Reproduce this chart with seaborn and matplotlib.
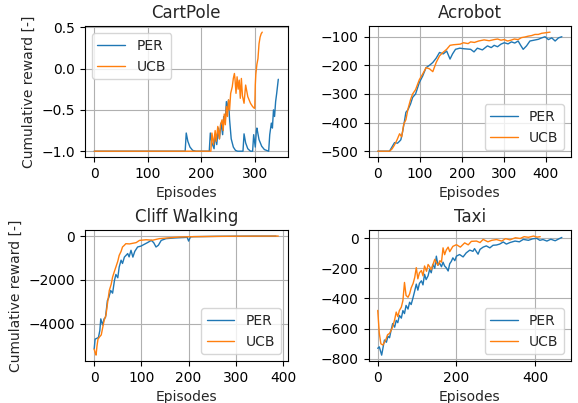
import matplotlib
matplotlib.use("Agg")
import matplotlib.pyplot as plt
from matplotlib.ticker import MultipleLocator
import seaborn as sns
import pandas as pd

# ---------------- data (episode, cumulative reward) ----------------
cart_per_x = [0, 170, 172, 175, 179, 184, 190, 215, 217, 220, 224, 226, 229, 232, 234, 237, 240, 242, 245,
              247, 249, 251, 253, 256, 260, 264, 268, 278, 280, 283, 287, 292, 296, 298, 301, 303, 304, 308,
              313, 318, 326, 328, 331, 333, 335, 337, 339, 341, 344]
cart_per_y = [-1.0, -1.0, -0.78, -0.88, -0.95, -0.99, -1.0, -1.0, -0.78, -0.9, -0.97, -0.8, -0.92, -0.72,
              -0.85, -0.66, -0.8, -0.58, -0.62, -0.4, -0.5, -0.38, -0.62, -0.85, -0.95, -0.99, -1.0, -1.0,
              -0.79, -0.9, -0.97, -1.0, -1.0, -0.8, -0.95, -0.75, -0.72, -0.86, -0.94, -0.98, -1.0, -0.8,
              -0.66, -0.72, -0.5, -0.58, -0.4, -0.3, -0.13]
cart_ucb_x = [0, 218, 220, 223, 226, 228, 231, 234, 236, 239, 241, 243, 245, 247, 249, 251, 253, 255, 258,
              260, 262, 263, 265, 267, 269, 271, 273, 275, 277, 280, 283, 287, 292, 296, 299, 300, 301, 302,
              304, 306, 308, 310, 312, 314]
cart_ucb_y = [-1.0, -1.0, -0.78, -0.92, -0.75, -0.88, -0.7, -0.85, -0.68, -0.62, -0.75, -0.55, -0.68,
              -0.46, -0.58, -0.38, -0.5, -0.3, -0.22, -0.12, -0.06, -0.12, -0.3, -0.1, -0.25, -0.14, -0.36,
              -0.12, -0.33, -0.42, -0.2, -0.34, -0.42, -0.46, -0.48, -0.48, -0.2, -0.07, 0.05, 0.12, 0.3,
              0.38, 0.42, 0.44]

acro_per_x = [0, 28, 34, 40, 47, 52, 55, 59, 63, 67, 72, 78, 83, 90, 99, 107, 115, 123, 131, 139, 147, 156,
              164, 172, 178, 185, 195, 205, 221, 229, 237, 249, 261, 270, 277, 285, 293, 301, 310, 318, 326,
              334, 340, 346, 354, 362, 372, 382, 390, 398, 406, 414, 422, 430, 438]
acro_per_y = [-500, -500, -485, -470, -472, -465, -460, -433, -400, -364, -355, -335, -312, -300, -260,
              -237, -208, -200, -190, -175, -155, -160, -150, -178, -160, -144, -140, -142, -144, -153,
              -140, -146, -132, -138, -130, -135, -126, -121, -125, -118, -122, -115, -130, -144, -132,
              -115, -112, -109, -104, -100, -110, -104, -115, -104, -100]
acro_ucb_x = [0, 28, 34, 40, 46, 52, 57, 62, 67, 72, 78, 83, 90, 99, 107, 115, 123, 131, 139, 147, 155,
              164, 172, 180, 196, 204, 215, 221, 230, 240, 253, 265, 277, 285, 293, 301, 309, 317, 325, 334,
              342, 350, 358, 366, 374, 382, 390, 400, 410]
acro_ucb_y = [-500, -500, -492, -478, -460, -439, -450, -405, -390, -352, -320, -300, -285, -250, -230,
              -208, -212, -222, -190, -167, -155, -144, -130, -128, -126, -121, -124, -118, -120, -115,
              -111, -114, -110, -108, -112, -110, -115, -112, -108, -110, -103, -101, -98, -96, -92, -92,
              -88, -86, -84]

cliff_per_x = [0, 2, 6, 9, 12, 14, 18, 21, 24, 28, 31, 35, 39, 43, 46, 50, 53, 57, 60, 64, 71, 74, 78, 82,
               86, 92, 99, 106, 113, 121, 126, 131, 136, 142, 152, 170, 190, 197, 200, 204, 210, 230, 260,
               300, 340, 385]
cliff_per_y = [-5140, -4690, -4650, -4620, -4300, -3770, -4050, -3770, -3700, -2940, -2800, -2480, -2600,
               -2020, -1750, -1900, -1410, -1100, -1250, -960, -800, -950, -650, -960, -700, -500, -460,
               -380, -300, -200, -300, -500, -420, -200, -120, -90, -70, -60, -230, -40, -30, -25, -15,
               -10, -5, -5]
cliff_ucb_x = [0, 2, 4, 6, 8, 11, 15, 21, 25, 28, 32, 36, 39, 43, 46, 50, 53, 57, 60, 64, 67, 75, 82, 89,
               96, 110, 124, 138, 160, 181, 210, 250, 300, 350, 390]
cliff_ucb_y = [-5150, -5300, -5420, -5000, -4700, -4600, -4500, -3850, -3600, -3100, -2480, -2200, -1870,
               -1600, -1410, -1150, -880, -700, -500, -420, -350, -360, -330, -300, -200, -170, -190,
               -120, -80, -45, -30, -20, -10, -5, -3]

taxi_per_x = [0, 4, 10, 17, 22, 26, 30, 34, 38, 43, 47, 51, 55, 60, 64, 68, 72, 77, 81, 85, 90, 94, 98,
              102, 106, 111, 115, 119, 123, 128, 132, 136, 140, 145, 149, 153, 157, 162, 166, 170, 174, 179,
              183, 187, 191, 196, 200, 208, 217, 225, 234, 242, 246, 255, 260, 268, 276, 285, 293, 302, 310,
              319, 327, 336, 349, 360, 370, 383, 394, 404, 412, 420, 430, 440, 451, 460, 468]
taxi_per_y = [-730, -720, -775, -675, -690, -650, -660, -610, -566, -590, -545, -560, -512, -530, -480,
              -500, -446, -470, -425, -440, -392, -350, -305, -345, -300, -283, -310, -240, -275, -250,
              -207, -230, -175, -200, -120, -180, -165, -190, -160, -185, -196, -218, -170, -155, -131,
              -150, -120, -109, -125, -98, -80, -88, -70, -107, -75, -60, -52, -65, -48, -46, -40, -26,
              -40, -30, -20, -25, -9, -15, -5, -2, -15, -10, -20, -8, -18, -6, 4]
taxi_ucb_x = [0, 4, 8, 13, 17, 21, 25, 30, 34, 38, 43, 47, 51, 55, 60, 64, 68, 72, 77, 81, 85, 90, 94, 98,
              102, 106, 111, 115, 119, 124, 128, 132, 136, 141, 145, 149, 153, 158, 162, 166, 170, 174, 179,
              183, 191, 200, 210, 221, 230, 238, 251, 260, 268, 280, 290, 302, 315, 325, 336, 350, 362, 372,
              383, 396, 405, 413]
taxi_ucb_y = [-479, -630, -700, -708, -690, -670, -640, -631, -610, -588, -540, -490, -520, -480, -457,
              -414, -294, -380, -392, -370, -330, -300, -261, -196, -270, -230, -215, -250, -185, -220,
              -175, -190, -210, -170, -141, -165, -180, -150, -160, -65, -110, -80, -60, -90, -55, -44,
              -60, -32, -45, -22, -20, -30, -9, -25, -15, -10, -20, -4, -12, 2, -3, 9, 5, 13, 6, 9]

# ---------------- plotting ----------------
sns.set_style("ticks")
plt.rcParams["font.family"] = ["DejaVu Sans"]

fig, axes = plt.subplots(2, 2, figsize=(5.78, 4.03), dpi=100)
fig.subplots_adjust(left=0.147, right=0.988, top=0.935, bottom=0.104, wspace=0.40, hspace=0.557)

panels = [
    ("CartPole", cart_per_x, cart_per_y, cart_ucb_x, cart_ucb_y, "upper left", True, 100, 0.5),
    ("Acrobot", acro_per_x, acro_per_y, acro_ucb_x, acro_ucb_y, "lower right", False, 100, 100),
    ("Cliff Walking", cliff_per_x, cliff_per_y, cliff_ucb_x, cliff_ucb_y, "lower right", True, 100, 2000),
    ("Taxi", taxi_per_x, taxi_per_y, taxi_ucb_x, taxi_ucb_y, "lower right", False, 200, 200),
]

for ax, (title, px, py, ux, uy, loc, ylab, xstep, ystep) in zip(axes.flat, panels):
    df_p = pd.DataFrame({"Episodes": px, "Reward": py})
    df_u = pd.DataFrame({"Episodes": ux, "Reward": uy})
    sns.lineplot(data=df_p, x="Episodes", y="Reward", ax=ax, color="#1f77b4",
                 linewidth=1.0, label="PER", estimator=None, sort=False)
    sns.lineplot(data=df_u, x="Episodes", y="Reward", ax=ax, color="#ff7f0e",
                 linewidth=1.0, label="UCB", estimator=None, sort=False)
    ax.set_title(title, fontsize=12)
    ax.set_xlabel("Episodes")
    ax.set_ylabel("Cumulative reward [-]" if ylab else "")
    ax.xaxis.set_major_locator(MultipleLocator(xstep))
    ax.yaxis.set_major_locator(MultipleLocator(ystep))
    ax.grid(True, color="#b0b0b0", linewidth=0.8)
    for s in ax.spines.values():
        s.set_visible(True)
        s.set_color("black")
        s.set_linewidth(0.8)
    ax.tick_params(direction="out", length=3.5, width=0.8, colors="black", labelsize=10)
    ax.legend(loc=loc, fontsize=10)

fig.savefig("out.png", dpi=100)
